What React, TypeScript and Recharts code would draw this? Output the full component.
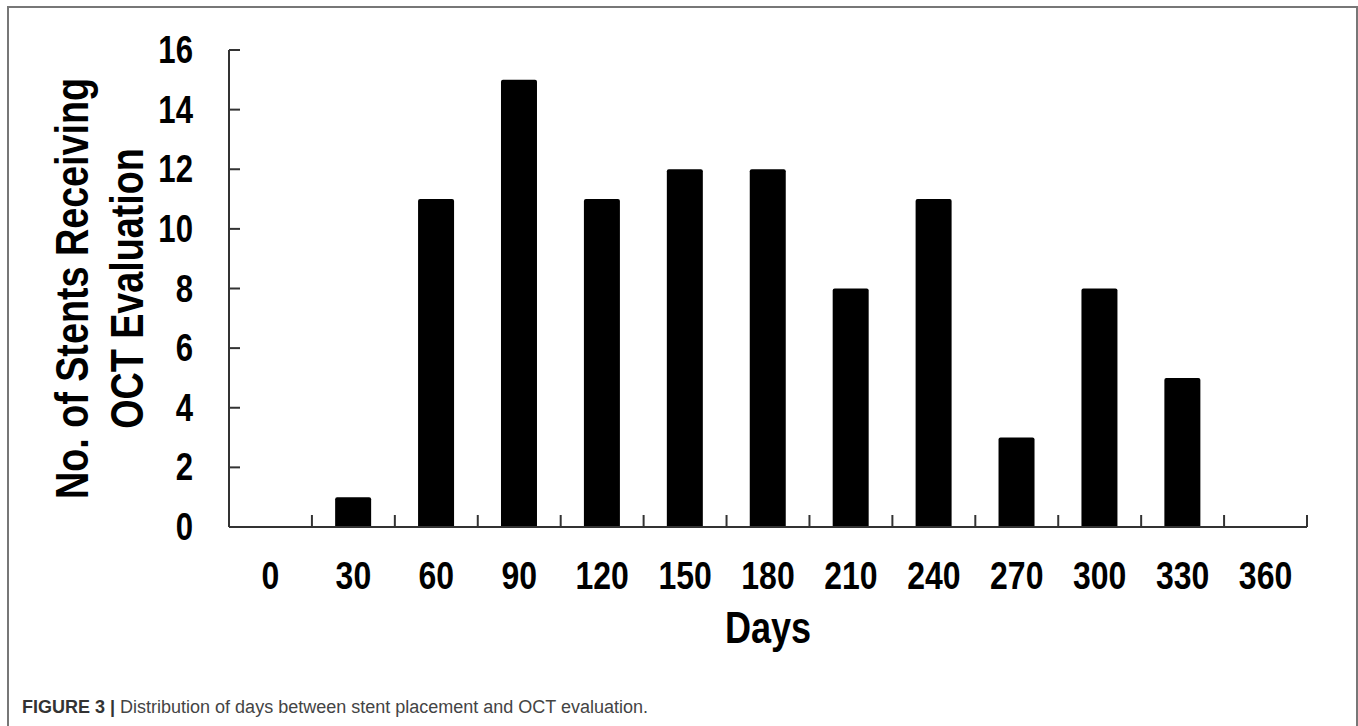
import { BarChart, Bar, XAxis, YAxis, Label } from 'recharts';

// days between stent placement and OCT evaluation
const days = ['0', '30', '60', '90', '120', '150', '180', '210', '240', '270', '300', '330', '360'];
const stentCounts = [0, 1, 11, 15, 11, 12, 12, 8, 11, 3, 8, 5, 0];
const yTicks = [0, 2, 4, 6, 8, 10, 12, 14, 16];

const data = days.map((d, i) => ({ day: d, count: stentCounts[i] }));

const W = 1358;
const H = 726;
const PLOT_LEFT = 229;
const PLOT_RIGHT = 1307;
const PLOT_TOP = 50;
const PLOT_BOTTOM = 527;
const X_AXIS_H = 116;
const BAND = (PLOT_RIGHT - PLOT_LEFT) / days.length;

const AXIS = '#333';
const FONT = '"Liberation Sans", Arial, sans-serif';
const SQUEEZE = 0.82; // fake a narrow bold face

// bold condensed text, squeezed along its own direction
const Narrow = ({ x, y, size, anchor = 'middle', rotate = 0, baseline, children }: any) => (
  <text
    transform={`translate(${x} ${y}) rotate(${rotate}) scale(${SQUEEZE} 1)`}
    textAnchor={anchor}
    dominantBaseline={baseline}
    fontFamily={FONT}
    fontWeight="bold"
    fontSize={size}
    fill="#000"
  >
    {children}
  </text>
);

const YTick = (props: any) => {
  const { x, y, payload } = props;
  return (
    <g>
      <line x1={x} x2={x + 11} y1={y} y2={y} stroke={AXIS} strokeWidth={2} />
      <Narrow x={x - 36} y={y} size={38} anchor="end" baseline="central">{payload.value}</Narrow>
    </g>
  );
};

const XTick = (props: any) => {
  const { x, y, payload } = props;
  const half = BAND / 2;
  return (
    <g>
      <line x1={x + half} x2={x + half} y1={y} y2={y - 12} stroke={AXIS} strokeWidth={2} />
      <Narrow x={x} y={y + 49} size={39} baseline="central">{payload.value}</Narrow>
    </g>
  );
};

const XTitle = (props: any) => {
  const { viewBox } = props;
  return <Narrow x={viewBox.x + viewBox.width / 2} y={viewBox.y + viewBox.height} size={44}>Days</Narrow>;
};

const YTitle = (props: any) => {
  const { viewBox } = props;
  const cy = viewBox.y + viewBox.height / 2;
  return (
    <g>
      <Narrow x={viewBox.x + 88} y={cy} size={46} rotate={-90}>No. of Stents Receiving</Narrow>
      <Narrow x={viewBox.x + 143} y={cy} size={46} rotate={-90}>OCT Evaluation</Narrow>
    </g>
  );
};

export default function App() {
  return (
    <div style={{ position: 'absolute', left: 0, top: 0, width: W, height: H, overflow: 'hidden', background: '#fff' }}>
      <div style={{
        position: 'absolute', left: 7, top: 6, width: W - 7 - 4, height: H + 10,
        border: '2px solid #777', borderBottom: 'none',
      }} />
      <div style={{ position: 'absolute', left: 0, top: 0 }}>
        <BarChart
          width={W}
          height={H}
          data={data}
          margin={{ top: PLOT_TOP, right: W - PLOT_RIGHT, bottom: H - PLOT_BOTTOM - X_AXIS_H, left: 0 }}
          barCategoryGap="28%"
        >
          <XAxis
            dataKey="day"
            height={X_AXIS_H}
            interval={0}
            tickSize={0}
            tickMargin={0}
            tickLine={false}
            axisLine={{ stroke: AXIS, strokeWidth: 2 }}
            tick={<XTick />}
          >
            <Label content={<XTitle />} />
          </XAxis>
          <YAxis
            width={PLOT_LEFT}
            domain={[0, 16]}
            ticks={yTicks}
            interval={0}
            tickSize={0}
            tickMargin={0}
            tickLine={false}
            axisLine={{ stroke: AXIS, strokeWidth: 2 }}
            tick={<YTick />}
          >
            <Label content={<YTitle />} />
          </YAxis>
          <Bar dataKey="count" fill="#000" radius={[2, 2, 0, 0]} isAnimationActive={false} />
        </BarChart>
      </div>
      <div style={{
        position: 'absolute', left: 22, top: 697, fontFamily: FONT,
        fontSize: 18, color: '#444', whiteSpace: 'nowrap', lineHeight: '20px',
      }}>
        <span style={{ fontWeight: 'bold', color: '#333' }}>FIGURE 3 |</span> Distribution of days between stent placement and OCT evaluation.
      </div>
    </div>
  );
}
